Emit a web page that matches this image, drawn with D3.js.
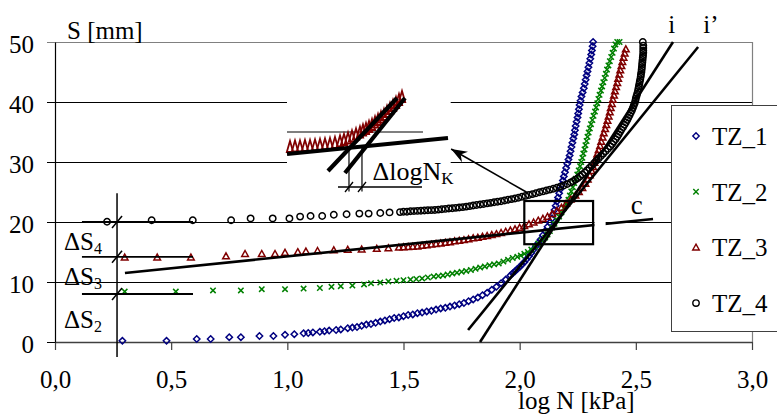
<!DOCTYPE html>
<html><head><meta charset="utf-8">
<script src="https://cdn.jsdelivr.net/npm/d3@7"></script>
<style>
body{margin:0;background:#fff}
svg{display:block;font-family:'Liberation Serif',serif}
svg text{font-family:'Liberation Serif',serif !important;fill:#000}
</style>
</head><body>
<svg id="chart" width="777" height="417"></svg>
<script>
// ---------- data ----------
const xTicks = [0, 0.5, 1, 1.5, 2, 2.5, 3];
const xTickLabels = ["0,0", "0,5", "1,0", "1,5", "2,0", "2,5", "3,0"];
const yTicks = [0, 10, 20, 30, 40, 50];
const gridLevels = [10, 20, 30, 40];
const seriesNames = ["TZ_1", "TZ_2", "TZ_3", "TZ_4"];
const seriesColors = ["#000080", "#008000", "#800000", "#000000"];

const tz1 = [[0.29,0.2],[0.48,0.2],[0.61,0.5],[0.67,0.5],[0.75,0.8],[0.80,0.8],[0.88,1.0],[0.94,1.0],[0.99,1.2],[1.03,1.3],[1.07,1.45],[1.09,1.5],[1.11,1.6],[1.14,1.7],[1.16,1.8],[1.18,1.9],[1.21,2.0],[1.23,2.1],[1.26,2.3],[1.28,2.4],[1.30,2.5],[1.32,2.7],[1.34,2.9],[1.36,3.0],[1.38,3.2],[1.40,3.4],[1.42,3.6],[1.44,3.8],[1.46,4.0],[1.48,4.1],[1.50,4.3],[1.52,4.5],[1.54,4.6],[1.56,4.8],[1.58,4.9],[1.60,5.1],[1.62,5.2],[1.64,5.4],[1.66,5.6],[1.68,5.7],[1.70,5.9],[1.72,6.1],[1.74,6.3],[1.76,6.5],[1.78,6.8],[1.80,7.1],[1.82,7.4],[1.84,7.8],[1.86,8.2],[1.88,8.7],[1.90,9.2],[1.92,9.8],[1.94,10.4],[1.96,11.1],[1.97,11.45],[1.98,11.8],[1.99,12.15],[2.00,12.5],[2.01,12.9],[2.02,13.3],[2.03,13.8],[2.04,14.3],[2.05,14.85],[2.06,15.4],[2.07,15.95],[2.08,16.5],[2.09,17.1],[2.10,17.8],[2.11,18.5],[2.12,19.2],[2.13,19.9],[2.14,20.6],[2.145,21.3],[2.15,22.0],[2.155,22.7],[2.16,23.4],[2.165,24.1],[2.17,24.8],[2.176,25.5],[2.181,26.2],[2.186,26.9],[2.19,27.6],[2.195,28.3],[2.2,29.0],[2.205,29.7],[2.21,30.4],[2.215,31.1],[2.219,31.8],[2.223,32.5],[2.227,33.2],[2.231,33.9],[2.235,34.6],[2.238,35.3],[2.241,36.0],[2.245,36.7],[2.249,37.4],[2.252,38.1],[2.255,38.8],[2.258,39.5],[2.262,40.2],[2.266,40.9],[2.271,41.6],[2.276,42.3],[2.28,43.0],[2.284,43.7],[2.288,44.4],[2.292,45.1],[2.296,45.8],[2.3,46.5],[2.304,47.2],[2.308,47.9],[2.311,48.6],[2.314,49.3],[2.316,50.0]];

const tz2 = [[0.30,8.4],[0.52,8.4],[0.68,8.6],[0.80,8.6],[0.89,8.8],[0.99,8.8],[1.07,8.9],[1.14,9.0],[1.19,9.2],[1.23,9.3],[1.28,9.4],[1.33,9.6],[1.36,9.8],[1.40,9.9],[1.435,10.1],[1.47,10.2],[1.50,10.3],[1.53,10.4],[1.555,10.5],[1.58,10.6],[1.605,10.75],[1.63,10.9],[1.65,11.0],[1.67,11.1],[1.69,11.25],[1.71,11.4],[1.73,11.55],[1.75,11.7],[1.77,11.85],[1.79,12.0],[1.81,12.2],[1.83,12.4],[1.85,12.6],[1.87,12.8],[1.89,12.95],[1.91,13.1],[1.93,13.4],[1.95,13.7],[1.97,14.0],[1.99,14.2],[2.005,14.4],[2.02,14.7],[2.035,15.0],[2.05,15.4],[2.065,15.9],[2.08,16.4],[2.095,16.9],[2.11,17.4],[2.12,17.9],[2.13,18.5],[2.14,19.1],[2.15,19.7],[2.16,20.3],[2.17,20.9],[2.18,21.6],[2.19,22.3],[2.2,23.0],[2.21,23.7],[2.216,24.4],[2.222,25.1],[2.229,25.8],[2.235,26.5],[2.241,27.2],[2.248,27.9],[2.254,28.6],[2.26,29.3],[2.265,30.0],[2.27,30.7],[2.274,31.4],[2.279,32.1],[2.283,32.8],[2.288,33.5],[2.292,34.2],[2.297,34.9],[2.302,35.6],[2.307,36.3],[2.313,37.0],[2.318,37.7],[2.324,38.4],[2.329,39.1],[2.334,39.8],[2.339,40.5],[2.344,41.2],[2.35,41.9],[2.355,42.6],[2.36,43.3],[2.366,44.0],[2.371,44.7],[2.376,45.4],[2.382,46.1],[2.388,46.8],[2.394,47.5],[2.4,48.2],[2.406,48.9],[2.412,49.6],[2.42,50.0],[2.43,50.0]];

const tz3 = [[0.30,14.1],[0.44,14.1],[0.585,14.1],[0.736,14.3],[0.818,14.7],[0.89,14.7],[0.947,14.7],[0.99,14.9],[1.045,15.0],[1.08,15.1],[1.13,15.2],[1.2,15.3],[1.26,15.4],[1.32,15.45],[1.385,15.55],[1.435,15.65],[1.48,15.75],[1.50,15.8],[1.52,15.85],[1.54,15.9],[1.56,15.95],[1.58,16.05],[1.60,16.15],[1.62,16.25],[1.64,16.35],[1.66,16.45],[1.68,16.55],[1.70,16.65],[1.72,16.8],[1.74,16.9],[1.76,17.0],[1.78,17.15],[1.80,17.3],[1.82,17.4],[1.84,17.55],[1.86,17.7],[1.88,17.85],[1.90,18.0],[1.92,18.2],[1.94,18.4],[1.96,18.6],[1.98,18.8],[2.00,19.05],[2.02,19.35],[2.04,19.65],[2.06,19.95],[2.08,20.25],[2.10,20.55],[2.12,20.9],[2.14,21.35],[2.16,21.85],[2.18,22.4],[2.20,23.05],[2.22,23.75],[2.24,24.45],[2.255,25.0],[2.27,25.7],[2.283,26.4],[2.293,27.1],[2.302,27.8],[2.31,28.5],[2.316,29.2],[2.322,29.9],[2.328,30.6],[2.334,31.3],[2.34,32.0],[2.346,32.7],[2.351,33.4],[2.357,34.1],[2.362,34.8],[2.368,35.5],[2.373,36.2],[2.378,36.9],[2.383,37.6],[2.388,38.3],[2.392,39.0],[2.397,39.7],[2.401,40.4],[2.406,41.1],[2.41,41.8],[2.415,42.5],[2.42,43.2],[2.424,43.9],[2.429,44.6],[2.433,45.3],[2.438,46.0],[2.442,46.7],[2.447,47.4],[2.452,48.1],[2.457,48.8]];

const tz4 = [[0.224,20.05],[0.416,20.3],[0.593,20.3],[0.758,20.3],[0.842,20.6],[0.937,20.6],[1.009,20.6],[1.055,20.9],[1.10,21.0],[1.15,21.0],[1.20,21.2],[1.255,21.3],[1.31,21.4],[1.35,21.4],[1.40,21.5],[1.44,21.6],[1.485,21.65],[1.50,21.7],[1.515,21.72],[1.53,21.78],[1.545,21.82],[1.56,21.85],[1.575,21.88],[1.59,21.92],[1.605,21.95],[1.62,21.98],[1.635,22.0],[1.65,22.06],[1.665,22.12],[1.68,22.18],[1.695,22.24],[1.71,22.3],[1.725,22.36],[1.74,22.42],[1.755,22.48],[1.77,22.56],[1.785,22.65],[1.80,22.74],[1.815,22.83],[1.83,22.92],[1.845,23.01],[1.86,23.1],[1.875,23.19],[1.89,23.28],[1.905,23.37],[1.92,23.47],[1.935,23.58],[1.95,23.7],[1.965,23.81],[1.98,23.92],[1.995,24.04],[2.01,24.2],[2.025,24.35],[2.04,24.5],[2.055,24.65],[2.07,24.8],[2.085,24.95],[2.10,25.1],[2.115,25.25],[2.13,25.4],[2.145,25.55],[2.16,25.72],[2.175,25.9],[2.19,26.1],[2.205,26.32],[2.22,26.6],[2.23,26.8],[2.24,27.05],[2.25,27.3],[2.26,27.6],[2.27,27.9],[2.28,28.25],[2.29,28.6],[2.30,29.0],[2.31,29.4],[2.32,29.8],[2.33,30.2],[2.34,30.6],[2.35,31.0],[2.36,31.4],[2.37,31.8],[2.38,32.2],[2.39,32.6],[2.398,33.0],[2.405,33.4],[2.413,33.8],[2.42,34.2],[2.426,34.6],[2.432,35.0],[2.438,35.4],[2.445,35.8],[2.451,36.2],[2.457,36.6],[2.463,37.0],[2.468,37.4],[2.473,37.8],[2.478,38.2],[2.483,38.6],[2.487,39.0],[2.491,39.4],[2.495,39.8],[2.498,40.2],[2.5,40.6],[2.503,41.0],[2.506,41.4],[2.509,41.8],[2.511,42.2],[2.513,42.6],[2.515,43.0],[2.517,43.4],[2.519,43.8],[2.521,44.2],[2.522,44.6],[2.524,45.0],[2.525,45.4],[2.526,45.8],[2.527,46.2],[2.528,46.6],[2.529,47.0],[2.53,47.4],[2.531,47.8],[2.532,48.2],[2.532,48.6],[2.532,49.0],[2.532,49.4],[2.53,50.0]];

const seriesData = [tz1, tz2, tz3, tz4];

// construction lines (log N, S)
const lineI  = [[1.8295, 0], [2.660, 50]];
const lineI2 = [[1.778, 2.0], [2.768, 49.17]];
const lineC  = [[0.301, 11.5], [2.574, 20.5]];
const boxRegion = [[2.02, 16.3], [2.316, 23.5]];
const arrowPts = [[2.036, 24.83], [1.705, 32.17]];

// ΔS construction
const dsLevels = [20, 14.2, 8];
const dsX = 0.267, dsLeft = 0.116, dsRight = 0.594, dsTop = 24.8, dsBottom = -2.5;
const dsLabelSub = ["4", "3", "2"];
const dsLabelY = [15.3, 9.5, 2.3];

// inset (magnified view of the box, own scales)
const insetRed = [[2.0256,19.6],[2.0349,19.64],[2.0442,19.64],[2.0535,19.68],[2.0629,19.68],[2.0722,19.72],[2.0815,19.76],[2.0908,19.8],[2.1001,19.84],[2.1094,19.92],[2.1188,20.04],[2.1262,20.16],[2.1337,20.28],[2.1411,20.44],[2.1486,20.6],[2.156,20.76],[2.1616,20.92],[2.1672,21.04],[2.1728,21.2],[2.1784,21.36],[2.184,21.56],[2.1896,21.76],[2.1951,21.96],[2.2007,22.16],[2.2063,22.4],[2.2119,22.64],[2.2175,22.88],[2.2231,23.12],[2.2287,23.36],[2.2343,23.6]];
const insetC  = [[2.02, 19.04], [2.32, 20.32]];
const insetI  = [[2.0964, 17.68], [2.225, 23.52]];
const insetI2 = [[2.128, 17.52], [2.2399, 23.52]];
const insetThin = [[2.02, 20.8], [2.2734, 20.8]];
const insetDim  = [[2.115, 16.4], [2.2715, 16.4]];
const insetVerts = [2.1355, 2.1597];
const insetVertTop = 19.55, insetVertBottom = 16.05;

// ---------- drawing ----------
const FONT = "'Liberation Serif', serif";
const svg = d3.select("#chart");
const x = d3.scaleLinear().domain([0, 3]).range([55, 752]);
const y = d3.scaleLinear().domain([0, 50]).range([342, 42]);
const line = d3.line().x(d => x(d[0])).y(d => y(d[1]));

const xi = d3.scaleLinear().domain([2.02, 2.32]).range([287, 448]);
const yi = d3.scaleLinear().domain([16, 24]).range([192, 92]);
const lineInset = d3.line().x(d => xi(d[0])).y(d => yi(d[1]));

// grid
svg.append("g").selectAll("line").data(gridLevels).join("line")
  .attr("x1", x(0)).attr("x2", x(3))
  .attr("y1", d => Math.round(y(d)) + 0.5).attr("y2", d => Math.round(y(d)) + 0.5)
  .attr("stroke", "#000").attr("stroke-width", 1);

// top and right border
svg.append("line").attr("x1", x(0) - 8).attr("x2", x(3)).attr("y1", y(50) + 0.5).attr("y2", y(50) + 0.5)
  .attr("stroke", "#808080").attr("stroke-width", 1.2);
svg.append("line").attr("x1", x(3) + 0.5).attr("x2", x(3) + 0.5).attr("y1", y(50)).attr("y2", y(0))
  .attr("stroke", "#808080").attr("stroke-width", 1.2);

// axes
const gx = svg.append("g").attr("transform", `translate(0,${y(0)})`)
  .call(d3.axisBottom(x).tickValues(xTicks).tickSize(8).tickSizeOuter(0).tickPadding(20)
    .tickFormat((d, i) => xTickLabels[i]));
gx.attr("font-size", 25).attr("font-family", FONT);
gx.select(".domain").attr("stroke", "#404040").attr("stroke-width", 1.3);
gx.selectAll(".tick line").attr("stroke", "#404040").attr("stroke-width", 1.2);
gx.selectAll(".tick text").attr("fill", "#000").style("font-family", FONT);

const gy = svg.append("g").attr("transform", `translate(${x(0)},0)`)
  .call(d3.axisLeft(y).tickValues(yTicks).tickSize(8).tickSizeOuter(0).tickPadding(13));
gy.attr("font-size", 25).attr("font-family", FONT);
gy.select(".domain").attr("stroke", "#000").attr("stroke-width", 1.2);
gy.selectAll(".tick line").attr("stroke", d => d === 50 ? "#808080" : "#000");
gy.selectAll(".tick text").attr("dy", "0.43em").attr("fill", "#000").style("font-family", FONT);

// axis titles
svg.append("text").attr("x", 67).attr("y", 38.5).attr("font-size", 25).text("S [mm]");
svg.append("text").attr("x", 518).attr("y", 409).attr("font-size", 25).text("log N [kPa]");

// markers
const shapes = [
  "M0,-3.2L3.2,0L0,3.2L-3.2,0Z",
  "M-2.7,-2.7L2.7,2.7M2.7,-2.7L-2.7,2.7",
  "M0,-3.3L3.3,2.6L-3.3,2.6Z",
  "M3.2,0A3.2,3.2 0 1,1 -3.2,0A3.2,3.2 0 1,1 3.2,0Z"
];
seriesData.forEach((data, si) => {
  svg.append("g").selectAll("path").data(data).join("path")
    .attr("transform", d => `translate(${x(d[0])},${y(d[1])})`)
    .attr("d", shapes[si])
    .attr("fill", "none")
    .attr("stroke", seriesColors[si])
    .attr("stroke-width", 1.5);
});

// inset
svg.append("rect").attr("x", xi(2.02)).attr("y", yi(24.35))
  .attr("width", xi(2.325) - xi(2.02)).attr("height", yi(15.9) - yi(24.35))
  .attr("fill", "#fff");
svg.append("path").attr("d", lineInset(insetThin)).attr("stroke", "#000").attr("stroke-width", 1.2).attr("fill", "none");
svg.append("g").selectAll("path").data(insetRed).join("path")
  .attr("transform", d => `translate(${xi(d[0])},${yi(d[1])})`)
  .attr("d", "M0,-6L3.2,5L-3.2,5Z")
  .attr("fill", "none").attr("stroke", "#800000").attr("stroke-width", 1.8);
[insetC, insetI, insetI2].forEach(seg => {
  svg.append("path").attr("d", lineInset(seg)).attr("stroke", "#000").attr("stroke-width", 4.2).attr("fill", "none");
});
svg.append("g").selectAll("line").data(insetVerts).join("line")
  .attr("x1", d => xi(d)).attr("x2", d => xi(d))
  .attr("y1", yi(insetVertTop)).attr("y2", yi(insetVertBottom))
  .attr("stroke", "#000").attr("stroke-width", 1.2);
svg.append("path").attr("d", lineInset(insetDim)).attr("stroke", "#000").attr("stroke-width", 1.3).attr("fill", "none");
svg.append("g").selectAll("line").data(insetVerts).join("line")
  .attr("x1", d => xi(d) - 4).attr("x2", d => xi(d) + 4)
  .attr("y1", yi(insetDim[0][1]) + 5).attr("y2", yi(insetDim[0][1]) - 5)
  .attr("stroke", "#000").attr("stroke-width", 1.3);
const tLog = svg.append("text").attr("x", xi(2.1795)).attr("y", yi(16.95)).attr("font-size", 26);
tLog.append("tspan").text("ΔlogN");
tLog.append("tspan").attr("font-size", 17).attr("dy", 4).text("K");

// construction lines in main chart
[lineI, lineI2, lineC].forEach(seg => {
  svg.append("path").attr("d", line(seg)).attr("stroke", "#000").attr("stroke-width", 2.6).attr("fill", "none");
});
// gap behind label c
svg.append("rect").attr("x", x(2.322)).attr("y", y(21.6))
  .attr("width", x(2.37) - x(2.322)).attr("height", y(19.0) - y(21.6)).attr("fill", "#fff");
svg.append("text").attr("x", x(2.478)).attr("y", y(21.35)).attr("font-size", 27).text("c");
svg.append("text").attr("x", x(2.64)).attr("y", 33).attr("font-size", 25).text("i");
svg.append("text").attr("x", x(2.79)).attr("y", 33).attr("font-size", 25).text("i\u2019");

// box
svg.append("rect")
  .attr("x", x(boxRegion[0][0])).attr("y", y(boxRegion[1][1]))
  .attr("width", x(boxRegion[1][0]) - x(boxRegion[0][0]))
  .attr("height", y(boxRegion[0][1]) - y(boxRegion[1][1]))
  .attr("fill", "none").attr("stroke", "#000").attr("stroke-width", 2.2);

// arrow
const defs = svg.append("defs");
defs.append("marker").attr("id", "arr").attr("markerUnits", "userSpaceOnUse")
  .attr("viewBox", "-16 -7 18 14").attr("refX", 0).attr("refY", 0)
  .attr("markerWidth", 18).attr("markerHeight", 14).attr("orient", "auto")
  .append("path").attr("d", "M0,0L-16,-6L-11,0L-16,6Z").attr("fill", "#000");
svg.append("path").attr("d", line(arrowPts)).attr("stroke", "#000").attr("stroke-width", 1.6)
  .attr("fill", "none").attr("marker-end", "url(#arr)");

// ΔS construction
svg.append("line").attr("x1", x(dsX)).attr("x2", x(dsX)).attr("y1", y(dsTop)).attr("y2", y(dsBottom))
  .attr("stroke", "#000").attr("stroke-width", 1.5);
svg.append("g").selectAll("line").data(dsLevels).join("line")
  .attr("x1", x(dsLeft)).attr("x2", x(dsRight)).attr("y1", d => y(d)).attr("y2", d => y(d))
  .attr("stroke", "#000").attr("stroke-width", 1.8);
svg.append("g").selectAll("line").data(dsLevels).join("line")
  .attr("x1", x(dsX) - 5).attr("x2", x(dsX) + 5).attr("y1", d => y(d) + 6).attr("y2", d => y(d) - 6)
  .attr("stroke", "#000").attr("stroke-width", 1.5);
dsLabelSub.forEach((s, i) => {
  const t = svg.append("text").attr("x", 64).attr("y", y(dsLabelY[i])).attr("font-size", 25);
  t.append("tspan").text("ΔS");
  t.append("tspan").attr("font-size", 16).attr("dy", 4).text(s);
});

// legend
const lg = svg.append("g");
lg.append("rect").attr("x", 671.5).attr("y", 105.5).attr("width", 130).attr("height", 226)
  .attr("fill", "#fff").attr("stroke", "#404040").attr("stroke-width", 1);
seriesNames.forEach((name, i) => {
  const cy = 136 + i * 55.7;
  lg.append("path").attr("transform", `translate(696,${cy})`).attr("d", shapes[i])
    .attr("fill", "none").attr("stroke", seriesColors[i]).attr("stroke-width", 1.4);
  lg.append("text").attr("x", 712).attr("y", cy + 9).attr("font-size", 25).text(name);
});
</script>
</body></html>
